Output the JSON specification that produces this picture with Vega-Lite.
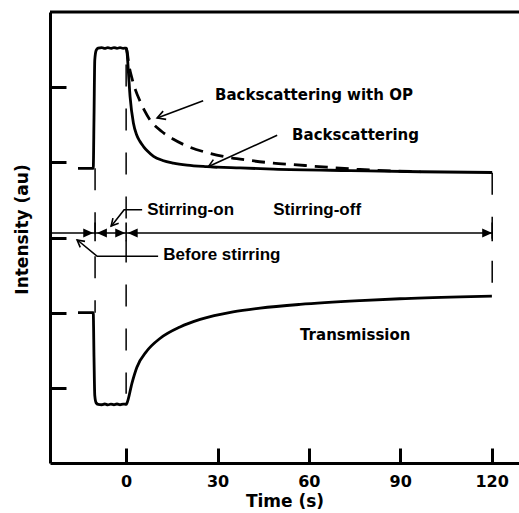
{
  "$schema": "https://vega.github.io/schema/vega-lite/v6.json",
  "width": 469,
  "height": 451,
  "autosize": {"type": "none"},
  "padding": {"left": 50, "top": 12, "right": 0, "bottom": 50},
  "background": "white",
  "config": {"view": {"stroke": null}},
  "datasets": {
    "curves": [
      {"series": "BS", "t": -15.8, "y": 3.92}, {"series": "BS", "t": -10.8, "y": 3.92}, {"series": "BS", "t": -10.55, "y": 4.6},
      {"series": "BS", "t": -10.3, "y": 5.36}, {"series": "BS", "t": -9.85, "y": 5.49}, {"series": "BS", "t": -9.2, "y": 5.52},
      {"series": "BS", "t": -8, "y": 5.527}, {"series": "BS", "t": -7, "y": 5.515}, {"series": "BS", "t": -6, "y": 5.526},
      {"series": "BS", "t": -5, "y": 5.516}, {"series": "BS", "t": -4, "y": 5.527}, {"series": "BS", "t": -3, "y": 5.517},
      {"series": "BS", "t": -2, "y": 5.526}, {"series": "BS", "t": -1, "y": 5.516}, {"series": "BS", "t": 0, "y": 5.52},
      {"series": "BS", "t": 0.23, "y": 5.49}, {"series": "BS", "t": 0.76, "y": 5.19}, {"series": "BS", "t": 1.3, "y": 4.87},
      {"series": "BS", "t": 2.4, "y": 4.52}, {"series": "BS", "t": 3.5, "y": 4.36}, {"series": "BS", "t": 4.5, "y": 4.28},
      {"series": "BS", "t": 5.7, "y": 4.21}, {"series": "BS", "t": 7, "y": 4.15}, {"series": "BS", "t": 9, "y": 4.08},
      {"series": "BS", "t": 12, "y": 4.025}, {"series": "BS", "t": 15.5, "y": 3.99}, {"series": "BS", "t": 20, "y": 3.963},
      {"series": "BS", "t": 26.5, "y": 3.943}, {"series": "BS", "t": 37.4, "y": 3.925}, {"series": "BS", "t": 48.3, "y": 3.91},
      {"series": "BS", "t": 73.6, "y": 3.89}, {"series": "BS", "t": 96.6, "y": 3.875}, {"series": "BS", "t": 120.2, "y": 3.865},
      {"series": "OP", "t": 0, "y": 5.52}, {"series": "OP", "t": 0.4, "y": 5.45}, {"series": "OP", "t": 0.9, "y": 5.3},
      {"series": "OP", "t": 1.9, "y": 5.12}, {"series": "OP", "t": 3.0, "y": 4.97}, {"series": "OP", "t": 4.6, "y": 4.81},
      {"series": "OP", "t": 6.0, "y": 4.69}, {"series": "OP", "t": 7.9, "y": 4.56}, {"series": "OP", "t": 11.7, "y": 4.41},
      {"series": "OP", "t": 15.4, "y": 4.31}, {"series": "OP", "t": 21.0, "y": 4.2}, {"series": "OP", "t": 26.5, "y": 4.13},
      {"series": "OP", "t": 33.1, "y": 4.07}, {"series": "OP", "t": 39.7, "y": 4.03}, {"series": "OP", "t": 48.3, "y": 3.99},
      {"series": "OP", "t": 54.8, "y": 3.97}, {"series": "OP", "t": 66.0, "y": 3.935}, {"series": "OP", "t": 76.8, "y": 3.905},
      {"series": "OP", "t": 87.7, "y": 3.885}, {"series": "OP", "t": 96.6, "y": 3.875},
      {"series": "T", "t": -15.8, "y": 2.0}, {"series": "T", "t": -10.8, "y": 2.0}, {"series": "T", "t": -10.55, "y": 1.4},
      {"series": "T", "t": -10.3, "y": 0.9}, {"series": "T", "t": -9.85, "y": 0.8}, {"series": "T", "t": -9.2, "y": 0.78},
      {"series": "T", "t": -8, "y": 0.775}, {"series": "T", "t": -7, "y": 0.785}, {"series": "T", "t": -6, "y": 0.774},
      {"series": "T", "t": -5, "y": 0.784}, {"series": "T", "t": -4, "y": 0.775}, {"series": "T", "t": -3, "y": 0.785},
      {"series": "T", "t": -2, "y": 0.775}, {"series": "T", "t": -1, "y": 0.784}, {"series": "T", "t": 0, "y": 0.78},
      {"series": "T", "t": 0.3, "y": 0.8}, {"series": "T", "t": 1.9, "y": 1.06}, {"series": "T", "t": 3.5, "y": 1.27},
      {"series": "T", "t": 6.8, "y": 1.49}, {"series": "T", "t": 11.2, "y": 1.66}, {"series": "T", "t": 17.7, "y": 1.81},
      {"series": "T", "t": 24.3, "y": 1.91}, {"series": "T", "t": 35.1, "y": 2.01}, {"series": "T", "t": 44, "y": 2.06},
      {"series": "T", "t": 57.1, "y": 2.11}, {"series": "T", "t": 76.8, "y": 2.16}, {"series": "T", "t": 89.9, "y": 2.185},
      {"series": "T", "t": 109.7, "y": 2.21}, {"series": "T", "t": 120.1, "y": 2.22}
    ],
    "segments": [
      {"id": "arrow", "o": 1, "t": -24.5, "y": 3.06}, {"id": "arrow", "o": 2, "t": 120.2, "y": 3.06},
      {"id": "op", "o": 1, "t": 25.3, "y": 4.82}, {"id": "op", "o": 2, "t": 10.2, "y": 4.59},
      {"id": "opv", "o": 1, "t": 12.15, "y": 4.681}, {"id": "opv", "o": 2, "t": 10.18, "y": 4.59}, {"id": "opv", "o": 3, "t": 13.14, "y": 4.571},
      {"id": "bs", "o": 1, "t": 49.6, "y": 4.36}, {"id": "bs", "o": 2, "t": 26.9, "y": 3.94},
      {"id": "bsv", "o": 1, "t": 28.64, "y": 4.036}, {"id": "bsv", "o": 2, "t": 26.93, "y": 3.938}, {"id": "bsv", "o": 3, "t": 29.92, "y": 3.93},
      {"id": "on", "o": 1, "t": 5.25, "y": 3.37}, {"id": "on", "o": 2, "t": -0.66, "y": 3.37}, {"id": "on", "o": 3, "t": -4.9, "y": 3.15},
      {"id": "onv", "o": 1, "t": -4.33, "y": 3.257}, {"id": "onv", "o": 2, "t": -4.93, "y": 3.153}, {"id": "onv", "o": 3, "t": -2.45, "y": 3.188},
      {"id": "bf", "o": 1, "t": 10.5, "y": 2.75}, {"id": "bf", "o": 2, "t": -9.5, "y": 2.75}, {"id": "bf", "o": 3, "t": -16.1, "y": 2.97},
      {"id": "bfv", "o": 1, "t": -13.5, "y": 2.948}, {"id": "bfv", "o": 2, "t": -16.09, "y": 2.967}, {"id": "bfv", "o": 3, "t": -15.07, "y": 2.868},
      {"id": "k1", "o": 1, "t": -10.2, "y": 3.2}, {"id": "k1", "o": 2, "t": -10.2, "y": 2.95},
      {"id": "k2", "o": 1, "t": 0, "y": 3.2}, {"id": "k2", "o": 2, "t": 0, "y": 2.95},
      {"id": "k3", "o": 1, "t": 120.2, "y": 3.2}, {"id": "k3", "o": 2, "t": 120.2, "y": 2.95}
    ]
  },
  "encoding": {
    "x": {
      "field": "t", "type": "quantitative",
      "scale": {"domain": [-25, 129], "nice": false, "zero": false},
      "axis": {
        "values": [0, 30, 60, 90, 120], "title": "Time (s)", "grid": false,
        "domainWidth": 3, "domainColor": "black", "tickWidth": 3, "tickSize": -15, "tickColor": "black",
        "labelFont": "DejaVu Sans", "labelFontWeight": "bold", "labelFontSize": 16, "labelColor": "black", "labelPadding": 25,
        "titleFont": "DejaVu Sans", "titleFontWeight": "bold", "titleFontSize": 17, "titleColor": "black", "titlePadding": 4
      }
    },
    "y": {
      "field": "y", "type": "quantitative",
      "scale": {"domain": [0, 6], "nice": false, "zero": false},
      "axis": {
        "values": [1, 2, 3, 4, 5], "title": "Intensity (au)", "grid": false, "labels": false,
        "domainWidth": 3, "domainColor": "black", "tickWidth": 3, "tickSize": -16, "tickColor": "black",
        "titleFont": "DejaVu Sans", "titleFontWeight": "bold", "titleFontSize": 17, "titleColor": "black",
        "titleX": -28, "titleY": 217, "titleAngle": -90, "titleAlign": "center", "titleBaseline": "middle"
      }
    }
  },
  "layer": [
    {
      "data": {"values": [{"t": -25, "t2": 129, "y": 6}]},
      "mark": {"type": "rule", "color": "black", "strokeWidth": 3},
      "encoding": {"x2": {"field": "t2"}}
    },
    {
      "data": {"values": [
        {"t": -10.2, "y": 3.92, "y2": 2.0},
        {"t": 0, "y": 5.3, "y2": 0.92},
        {"t": 120.2, "y": 3.86, "y2": 2.22}
      ]},
      "mark": {"type": "rule", "color": "black", "strokeWidth": 1.5, "strokeDash": [22, 22]},
      "encoding": {"y2": {"field": "y2"}}
    },
    {
      "data": {"name": "segments"},
      "mark": {"type": "line", "color": "black", "strokeWidth": 1.6},
      "encoding": {"detail": {"field": "id"}, "order": {"field": "o", "type": "quantitative"}}
    },
    {
      "data": {"name": "curves"},
      "transform": [{"filter": "datum.series !== 'OP'"}],
      "mark": {"type": "line", "color": "black", "strokeWidth": 2.8, "interpolate": "monotone"},
      "encoding": {"detail": {"field": "series"}}
    },
    {
      "data": {"name": "curves"},
      "transform": [{"filter": "datum.series === 'OP'"}],
      "mark": {"type": "line", "color": "black", "strokeWidth": 2.8, "interpolate": "monotone", "strokeDash": [13, 8]},
      "encoding": {}
    },
    {
      "data": {"values": [
        {"t": -10.8, "y": 3.06, "head": "R"},
        {"t": -9.6, "y": 3.06, "head": "L"},
        {"t": -0.3, "y": 3.06, "head": "R"},
        {"t": 0.5, "y": 3.06, "head": "L"},
        {"t": 120.2, "y": 3.06, "head": "R"}
      ]},
      "mark": {"type": "point", "filled": true, "color": "black", "opacity": 1, "size": 400},
      "encoding": {
        "shape": {"field": "head", "type": "nominal", "legend": null,
          "scale": {"domain": ["R", "L"], "range": ["M0,0L-1,-0.45L-1,0.45Z", "M0,0L1,-0.45L1,0.45Z"]}}
      }
    },
    {
      "data": {"values": [
        {"label": "Backscattering with OP", "t": 29.2, "y": 4.9},
        {"label": "Backscattering", "t": 54.5, "y": 4.36},
        {"label": "Transmission", "t": 57.1, "y": 1.7}
      ]},
      "mark": {"type": "text", "align": "left", "baseline": "middle", "font": "DejaVu Sans", "fontWeight": "bold", "fontSize": 15, "color": "black"},
      "encoding": {"text": {"field": "label"}}
    },
    {
      "data": {"values": [
        {"label": "Stirring-on", "t": 6.9, "y": 3.37},
        {"label": "Stirring-off", "t": 48.3, "y": 3.37},
        {"label": "Before stirring", "t": 12.2, "y": 2.77}
      ]},
      "mark": {"type": "text", "align": "left", "baseline": "middle", "font": "Liberation Sans", "fontWeight": "bold", "fontSize": 17, "color": "black"},
      "encoding": {"text": {"field": "label"}}
    }
  ]
}
